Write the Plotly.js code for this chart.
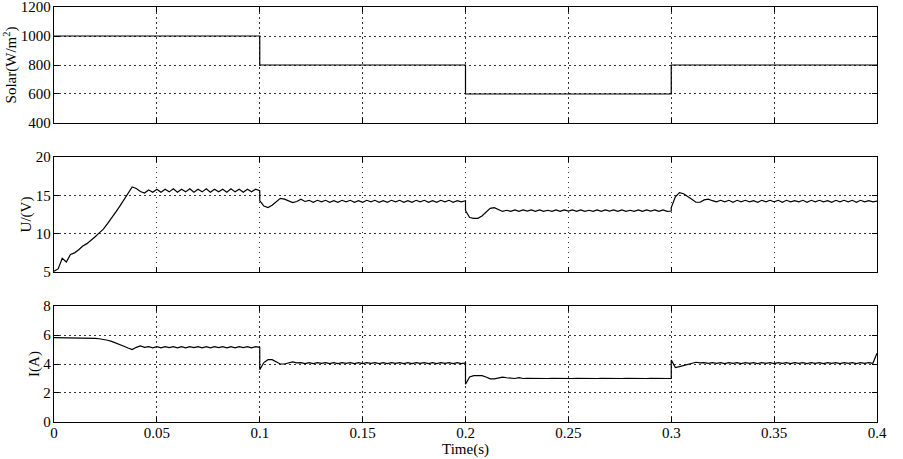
<!DOCTYPE html>
<html>
<head>
<meta charset="utf-8">
<script src="https://cdn.plot.ly/plotly-3.0.1.min.js"></script>
<style>html,body{margin:0;padding:0;background:#fff;}#chart{width:903px;height:459px;}</style>
</head>
<body>
<div id="chart"></div>
<script>
// ---- data ----
const sampleStep = 0.002;              // sampling step of the simulated signals (s)
const segmentStarts = [0, 0.1, 0.2, 0.3];

// Solar irradiance steps (W/m^2)
const solarTimes = [0, 0.1, 0.1, 0.2, 0.2, 0.3, 0.3, 0.4];
const solarValues = [1000, 1000, 800, 800, 600, 600, 800, 800];

// PV voltage U (V), one array per 0.1 s segment, samples every 0.002 s
const voltageSeg1 = [5.1, 5.4, 6.8, 6.3, 7.3, 7.5, 7.9, 8.4, 8.7, 9.1, 9.6, 10.1, 10.6, 11.3, 12.0, 12.8, 13.6, 14.4, 15.3, 16.1,
  15.9, 15.5, 15.3, 15.7, 15.4, 15.8, 15.4, 15.8, 15.45, 15.85, 15.4, 15.8, 15.45, 15.85, 15.4, 15.8, 15.45, 15.85, 15.4, 15.8,
  15.45, 15.8, 15.4, 15.85, 15.45, 15.8, 15.4, 15.8, 15.45, 15.8, 15.6];
const voltageSeg2 = [14.3, 13.6, 13.4, 13.7, 14.2, 14.6, 14.5, 14.3, 14.05, 14.2, 14.5, 14.2, 14.35, 14.1, 14.35, 14.15, 14.35, 14.1,
  14.3, 14.1, 14.35, 14.15, 14.35, 14.1, 14.3, 14.1, 14.35, 14.15, 14.35, 14.1, 14.3, 14.1, 14.35, 14.15, 14.35, 14.1, 14.3, 14.1,
  14.35, 14.15, 14.35, 14.1, 14.3, 14.1, 14.35, 14.15, 14.35, 14.1, 14.3, 14.15, 14.3];
const voltageSeg3 = [13.0, 12.1, 12.0, 12.0, 12.3, 12.8, 13.3, 13.4, 13.1, 12.9, 13.05, 12.9, 13.1, 12.9, 13.1, 12.95, 13.1, 12.9,
  13.1, 12.9, 13.05, 12.9, 13.1, 12.9, 13.1, 12.95, 13.1, 12.9, 13.1, 12.9, 13.05, 12.9, 13.1, 12.9, 13.1, 12.95, 13.1, 12.9,
  13.1, 12.9, 13.05, 12.9, 13.1, 12.9, 13.1, 12.95, 13.1, 12.9, 13.1, 12.9, 12.95];
const voltageSeg4 = [13.4, 14.8, 15.35, 15.2, 14.9, 14.5, 14.1, 14.1, 14.4, 14.5, 14.3, 14.15, 14.35, 14.15, 14.35, 14.1, 14.35,
  14.15, 14.35, 14.15, 14.3, 14.1, 14.35, 14.15, 14.35, 14.15, 14.35, 14.1, 14.35, 14.15, 14.3, 14.15, 14.35, 14.1, 14.35, 14.15,
  14.35, 14.15, 14.3, 14.1, 14.35, 14.15, 14.35, 14.15, 14.35, 14.1, 14.35, 14.15, 14.3, 14.15, 14.25];

// PV current I (A), one array per 0.1 s segment, samples every 0.002 s
const currentSeg1 = [5.82, 5.82, 5.82, 5.82, 5.82, 5.82, 5.81, 5.80, 5.79, 5.78, 5.77, 5.74, 5.70, 5.64, 5.56, 5.46, 5.35, 5.22,
  5.10, 5.0, 5.15, 5.25, 5.15, 5.2, 5.12, 5.2, 5.12, 5.2, 5.13, 5.2, 5.12, 5.2, 5.12, 5.2, 5.13, 5.2, 5.12, 5.2, 5.12, 5.2, 5.13,
  5.2, 5.12, 5.2, 5.12, 5.2, 5.13, 5.2, 5.12, 5.2, 5.15];
const currentSeg2 = [3.6, 4.1, 4.3, 4.3, 4.15, 4.0, 4.0, 4.1, 4.15, 4.08, 4.1, 4.03, 4.1, 4.03, 4.1, 4.04, 4.1, 4.03, 4.1, 4.03,
  4.1, 4.04, 4.1, 4.03, 4.1, 4.03, 4.1, 4.04, 4.1, 4.03, 4.1, 4.03, 4.1, 4.04, 4.1, 4.03, 4.1, 4.03, 4.1, 4.04, 4.1, 4.03, 4.1,
  4.03, 4.1, 4.04, 4.1, 4.03, 4.1, 4.03, 4.08];
const currentSeg3 = [2.6, 3.1, 3.2, 3.22, 3.2, 3.1, 2.98, 2.98, 3.05, 3.1, 3.05, 3.0, 3.0, 3.06, 3.0, 3.01, 3.0, 3.01, 3.0, 3.01,
  3.0, 3.01, 3.0, 3.01, 3.0, 3.01, 3.0, 3.01, 3.0, 3.01, 3.0, 3.01, 3.0, 3.01, 3.0, 3.01, 3.0, 3.01, 3.0, 3.01, 3.0, 3.01, 3.0,
  3.01, 3.0, 3.01, 3.0, 3.01, 3.0, 3.01, 3.0];
const currentSeg4 = [4.28, 3.75, 3.82, 3.9, 4.0, 4.08, 4.12, 4.08, 4.1, 4.04, 4.1, 4.04, 4.1, 4.03, 4.1, 4.04, 4.1, 4.03, 4.1,
  4.04, 4.1, 4.03, 4.1, 4.04, 4.1, 4.03, 4.1, 4.04, 4.1, 4.03, 4.1, 4.04, 4.1, 4.03, 4.1, 4.04, 4.1, 4.03, 4.1, 4.04, 4.1, 4.03,
  4.1, 4.04, 4.1, 4.03, 4.1, 4.04, 4.1, 4.05, 4.75];

const timeTicks = [0, 0.05, 0.1, 0.15, 0.2, 0.25, 0.3, 0.35, 0.4];
const timeTickLabels = ['0', '0.05', '0.1', '0.15', '0.2', '0.25', '0.3', '0.35', '0.4'];
const solarTicks = [400, 600, 800, 1000, 1200];
const voltageTicks = [5, 10, 15, 20];
const currentTicks = [0, 2, 4, 6, 8];

// ---- assemble segments ----
function joinSegments(segs) {
  const x = [], y = [];
  segs.forEach((s, k) => {
    s.forEach((v, i) => { x.push(+(segmentStarts[k] + i * sampleStep).toFixed(4)); y.push(v); });
  });
  return {x, y};
}
const U = joinSegments([voltageSeg1, voltageSeg2, voltageSeg3, voltageSeg4]);
const I = joinSegments([currentSeg1, currentSeg2, currentSeg3, currentSeg4]);

const lineStyle = {color: '#000', width: 1.2};
const traces = [
  {x: solarTimes, y: solarValues, xaxis: 'x', yaxis: 'y', mode: 'lines', line: lineStyle, hoverinfo: 'skip'},
  {x: U.x, y: U.y, xaxis: 'x2', yaxis: 'y2', mode: 'lines', line: lineStyle, hoverinfo: 'skip'},
  {x: I.x, y: I.y, xaxis: 'x3', yaxis: 'y3', mode: 'lines', line: lineStyle, hoverinfo: 'skip'}
];

const fontFamily = '"Liberation Serif", "Times New Roman", serif';
const gridDash = '1.5px,3.5px';
function xAxis(anchor, labels) {
  return {
    anchor: anchor, range: [0, 0.4], tickvals: timeTicks, ticktext: timeTickLabels,
    showticklabels: labels, ticks: 'inside', ticklen: 5, tickcolor: '#000', tickwidth: 1,
    showline: true, linecolor: '#000', linewidth: 1.3, mirror: 'ticks',
    showgrid: true, gridcolor: '#333', griddash: gridDash, gridwidth: 1,
    zeroline: false, automargin: false, fixedrange: true, ticklabelstandoff: -3,
    ticklabeloverflow: 'allow',
    tickfont: {family: fontFamily, size: 15, color: '#000'}
  };
}
function yAxis(domain, range, ticks, title, anchor) {
  return {
    domain: domain, range: range, tickvals: ticks, anchor: anchor,
    ticks: 'inside', ticklen: 5, tickcolor: '#000', tickwidth: 1,
    showline: true, linecolor: '#000', linewidth: 1.3, mirror: 'ticks',
    showgrid: true, gridcolor: '#333', griddash: gridDash, gridwidth: 1,
    zeroline: false, automargin: false, fixedrange: true, ticklabelstandoff: -1,
    ticklabeloverflow: 'allow',
    tickfont: {family: fontFamily, size: 15, color: '#000'},
    title: {text: title, standoff: 0, font: {family: fontFamily, size: 15, color: '#000'}}
  };
}

const layout = {
  width: 903, height: 459,
  margin: {l: 54, r: 26, t: 7, b: 37},
  paper_bgcolor: '#fff', plot_bgcolor: '#fff',
  showlegend: false,
  font: {family: fontFamily, size: 15, color: '#000'},
  xaxis: xAxis('y', false),
  xaxis2: Object.assign(xAxis('y2', false), {matches: 'x'}),
  xaxis3: Object.assign(xAxis('y3', true), {matches: 'x', title: {text: 'Time(s)', standoff: 3, font: {family: fontFamily, size: 15, color: '#000'}}}),
  yaxis: yAxis([0.7205, 1], [400, 1200], solarTicks, 'Solar(W/m<sup>2</sup>)', 'x'),
  yaxis2: yAxis([0.3614, 0.6386], [5, 20], voltageTicks, 'U/(V)', 'x2'),
  yaxis3: yAxis([0, 0.2795], [0, 8], currentTicks, 'I(A)', 'x3')
};

Plotly.newPlot('chart', traces, layout, {displayModeBar: false, staticPlot: true});
</script>
</body>
</html>
